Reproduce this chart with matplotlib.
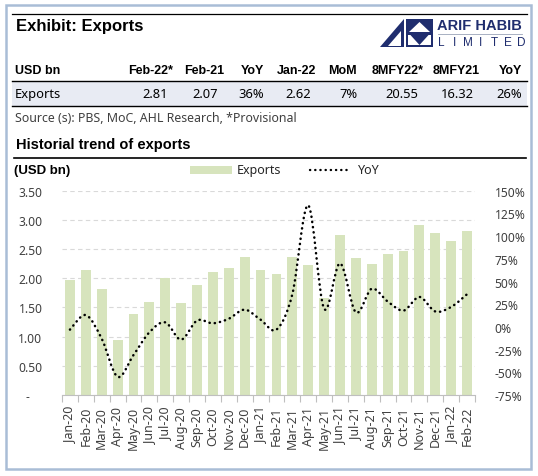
import numpy as np
import matplotlib
matplotlib.use("Agg")
import matplotlib.pyplot as plt
from matplotlib.patches import Rectangle, Polygon, PathPatch
from matplotlib.lines import Line2D
from matplotlib.path import Path

# ---------------- data ----------------
months = ["Jan-20", "Feb-20", "Mar-20", "Apr-20", "May-20", "Jun-20", "Jul-20",
          "Aug-20", "Sep-20", "Oct-20", "Nov-20", "Dec-20", "Jan-21", "Feb-21",
          "Mar-21", "Apr-21", "May-21", "Jun-21", "Jul-21", "Aug-21", "Sep-21",
          "Oct-21", "Nov-21", "Dec-21", "Jan-22", "Feb-22"]
exports = [1.97, 2.14, 1.81, 0.95, 1.39, 1.60, 2.00, 1.58, 1.88, 2.10, 2.18, 2.37,
           2.15, 2.07, 2.37, 2.23, 1.66, 2.74, 2.35, 2.25, 2.42, 2.47, 2.91, 2.78,
           2.63, 2.81]
yoy = [-3, 13, -13, -55, -31, -6, 5, -14, 7, 4, 9, 19,
       8, -3, 36, 134, 20, 70, 16, 42, 28, 18, 33, 17, 22, 36]

table_cols = ["Feb-22*", "Feb-21", "YoY", "Jan-22", "MoM", "8MFY22*", "8MFY21", "YoY"]
table_vals = ["2.81", "2.07", "36%", "2.62", "7%", "20.55", "16.32", "26%"]
left_ticks = [0, 0.5, 1.0, 1.5, 2.0, 2.5, 3.0, 3.5]
right_ticks = [-75, -50, -25, 0, 25, 50, 75, 100, 125, 150]

# ---------------- figure ----------------
W, H = 538, 477
fig = plt.figure(figsize=(W / 100, H / 100), dpi=100)
fig.patch.set_facecolor("white")

BOLD = "Liberation Sans"
REG = "Noto Sans"
NAVY = "#1f2d6e"


def fx(x):
    return x / W


def fy(y):
    return 1 - y / H


def T(x, y, s, **kw):
    kw.setdefault("va", "center")
    fig.text(fx(x), fy(y), s, **kw)


def hline(y, x0, x1, lw=1.0, color="black"):
    fig.add_artist(Line2D([fx(x0), fx(x1)], [fy(y), fy(y)], lw=lw, color=color,
                          transform=fig.transFigure))


def rect(x0, y0, x1, y1, **kw):
    fig.add_artist(Rectangle((fx(x0), fy(y1)), fx(x1) - fx(x0), fy(y0) - fy(y1),
                             transform=fig.transFigure, **kw))


def poly(pts, **kw):
    fig.add_artist(Polygon([(fx(a), fy(b)) for a, b in pts], closed=True,
                           transform=fig.transFigure, **kw))


# outer frame
rect(5.5, 5.5, 530.5, 469.5, fill=False, edgecolor="#a9bdd6", lw=1.8)

# header
hline(14.5, 12, 527, lw=0.9)
T(16, 26, "Exhibit: Exports", fontsize=12, fontweight="bold", family=BOLD)

# logo
poly([(380, 48), (404, 20), (404, 48)], facecolor=NAVY, edgecolor="none")
poly([(388, 47), (401, 32), (401, 47)], facecolor="white", edgecolor="none")
rect(406, 20, 433, 48, facecolor=NAVY, edgecolor="none")
poly([(409, 33), (419.5, 23), (430, 33)], facecolor="white", edgecolor="none")
poly([(408, 35.5), (431, 35.5), (431, 46), (408, 46)], facecolor="white", edgecolor="none")
poly([(410, 35.5), (429, 35.5), (419.5, 46)], facecolor=NAVY, edgecolor="none")
T(522, 26.5, "ARIF HABIB", fontsize=10.5, fontweight="bold", family=BOLD,
  color=NAVY, ha="right")
hline(34.5, 438, 522, lw=0.6, color="#9aa3b8")
for i, ch in enumerate("LIMITED"):
    T(441 + i * 13.3, 43, ch, fontsize=8.5, family=BOLD, color=NAVY, ha="center")

# table
col_right = [173, 224, 264, 316, 357, 424, 480, 522]
val_right = [168, 218, 264, 311, 357, 418, 474, 522]
T(15, 71, "USD bn", fontsize=9, fontweight="bold", family=BOLD)
for c, xr in zip(table_cols, col_right):
    T(xr, 71, c, fontsize=9, fontweight="bold", family=BOLD, ha="right")
rect(12, 82, 527, 107, facecolor="#e8ebf3", edgecolor="none")
hline(82, 12, 527, lw=1.0)
hline(107, 12, 527, lw=1.0)
T(15, 94.5, "Exports", fontsize=9.3, family=REG)
for v, xr in zip(table_vals, val_right):
    T(xr, 94.5, v, fontsize=9.3, family=REG, ha="right")
T(15, 118.5, "Source (s): PBS, MoC, AHL Research, *Provisional", fontsize=8.9,
  family=REG, color="#404040")

# chart heading
T(16, 145, "Historial trend of exports", fontsize=10.5, fontweight="bold", family=BOLD)
hline(159, 14, 526, lw=1.2)
T(14, 171, "(USD bn)", fontsize=9.5, fontweight="bold", family=BOLD)

# legend
rect(190, 167, 232, 175, facecolor="#d7e4bd", edgecolor="none")
T(237, 170.5, "Exports", fontsize=9, family=REG, color="#262626")
fig.add_artist(Line2D([fx(310), fx(349)], [fy(171), fy(171)], color="black", lw=1.7,
                      linestyle=(0, (0.1, 2.1)), dash_capstyle="round",
                      transform=fig.transFigure))
T(358, 170.5, "YoY", fontsize=9, family=REG, color="#262626")

# ---------------- chart ----------------
ax = fig.add_axes([fx(62), fy(396), fx(475) - fx(62), fy(191.7) - fy(396)])
x = np.arange(len(months))
ax.bar(x, exports, width=0.62, color="#d7e4bd", zorder=2)
ax.set_xlim(-0.5, len(months) - 0.5)
ax.set_ylim(0, 3.5)
ax.set_yticks(left_ticks)
ax.set_yticklabels(["-    " if v == 0 else f"{v:.2f}" for v in left_ticks],
                   family=REG, fontsize=8.7, color="#404040")
ax.yaxis.grid(True, color="#d9d9d9", linestyle=(0, (4, 3)), lw=0.8, zorder=0)
ax.set_axisbelow(True)
ax.tick_params(axis="y", length=0, pad=14)
ax.set_xticks(x)
ax.set_xticklabels(months, rotation=90, family=REG, fontsize=9, color="#404040")
ax.set_xticks(np.arange(-0.5, len(months), 1.0), minor=True)
ax.tick_params(axis="x", which="major", length=0, pad=8)
ax.tick_params(axis="x", which="minor", length=5, color="#bfbfbf", width=0.8)
for s in ["top", "left", "right"]:
    ax.spines[s].set_visible(False)
ax.spines["bottom"].set_color("#bfbfbf")
ax.spines["bottom"].set_linewidth(0.8)

ax2 = ax.twinx()
ax2.set_ylim(-75, 150)
ax2.set_yticks(right_ticks)
ax2.set_yticklabels([f"{v}%" for v in right_ticks], family=REG, fontsize=8.7,
                    color="#404040")
ax2.tick_params(axis="y", length=0, pad=14)
for s in ax2.spines.values():
    s.set_visible(False)


def smooth_path(xs, ys):
    pts = np.column_stack([xs, ys]).astype(float)
    n = len(pts)
    verts = [pts[0]]
    codes = [Path.MOVETO]
    for i in range(n - 1):
        p0 = pts[i - 1] if i > 0 else pts[i]
        p1, p2 = pts[i], pts[i + 1]
        p3 = pts[i + 2] if i + 2 < n else pts[i + 1]
        verts += [p1 + (p2 - p0) / 6, p2 - (p3 - p1) / 6, p2]
        codes += [Path.CURVE4] * 3
    return Path(verts, codes)


pp = PathPatch(smooth_path(x, yoy), fill=False, edgecolor="black", lw=1.8,
               linestyle=(0, (0.1, 2.0)), capstyle="round", zorder=3)
ax2.add_patch(pp)

fig.savefig("out.png", dpi=100)
